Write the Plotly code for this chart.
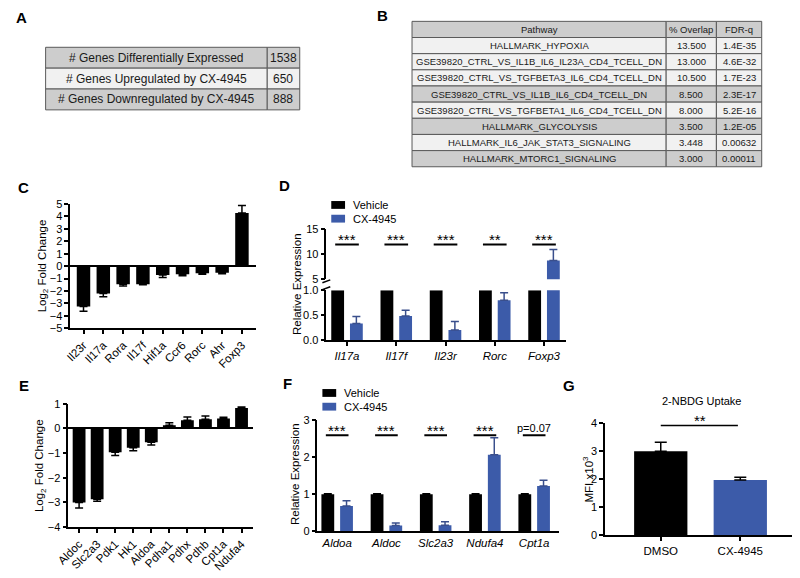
import plotly.graph_objects as go

W, H = 800, 578
OFF = 8  # default body margin of the html page
def fx(p): return (p - OFF) / W
def fy(p): return 1 - (p - OFF) / H

FONT = "Arial, Liberation Sans, sans-serif"
BLUE = "#3c5ba9"
GRAY_ROW = "#cdcdcd"
LIGHT_ROW = "#f1f1f1"
BORDER = "#5a5a5a"

# ---------------- data ----------------
tableA_labels = ["# Genes Differentially Expressed", "# Genes Upregulated by CX-4945",
                 "# Genes Downregulated by CX-4945"]
tableA_counts = ["1538", "650", "888"]
tableA_shade = [1, 0, 1]

tableB_header = ["Pathway", "% Overlap", "FDR-q"]
tableB_pathways = ["HALLMARK_HYPOXIA",
                   "GSE39820_CTRL_VS_IL1B_IL6_IL23A_CD4_TCELL_DN",
                   "GSE39820_CTRL_VS_TGFBETA3_IL6_CD4_TCELL_DN",
                   "GSE39820_CTRL_VS_IL1B_IL6_CD4_TCELL_DN",
                   "GSE39820_CTRL_VS_TGFBETA1_IL6_CD4_TCELL_DN",
                   "HALLMARK_GLYCOLYSIS",
                   "HALLMARK_IL6_JAK_STAT3_SIGNALING",
                   "HALLMARK_MTORC1_SIGNALING"]
tableB_overlap = ["13.500", "13.000", "10.500", "8.500", "8.000", "3.500", "3.448", "3.000"]
tableB_fdr = ["1.4E-35", "4.6E-32", "1.7E-23", "2.3E-17", "5.2E-16", "1.2E-05", "0.00632", "0.00011"]
tableB_shade = [0, 0, 0, 1, 0, 1, 0, 1]

c_genes = ["Il23r", "Il17a", "Rora", "Il17f", "Hif1a", "Ccr6", "Rorc", "Ahr", "Foxp3"]
c_log2fc = [-3.25, -2.2, -1.46, -1.46, -0.71, -0.66, -0.58, -0.53, 4.28]
c_err = [0.37, 0.26, 0.14, 0.03, 0.2, 0.11, 0.08, 0.08, 0.6]

d_genes = ["Il17a", "Il17f", "Il23r", "Rorc", "Foxp3"]
d_vehicle = [1, 1, 1, 1, 1]
d_cx = [0.33, 0.48, 0.2, 0.8, 8.8]
d_cx_err = [0.14, 0.12, 0.17, 0.15, 2.2]
d_sig = ["***", "***", "***", "**", "***"]

e_genes = ["Aldoc", "Slc2a3", "Pdk1", "Hk1", "Aldoa", "Pdha1", "Pdhx", "Pdhb", "Cpt1a", "Ndufa4"]
e_log2fc = [-3.0, -2.87, -0.97, -0.78, -0.56, 0.13, 0.33, 0.37, 0.4, 0.83]
e_err = [0.23, 0.08, 0.13, 0.12, 0.11, 0.1, 0.13, 0.13, 0.05, 0.04]

f_genes = ["Aldoa", "Aldoc", "Slc2a3", "Ndufa4", "Cpt1a"]
f_vehicle = [1, 1, 1, 1, 1]
f_vehicle_err = [0.01, 0.01, 0.01, 0.01, 0.01]
f_cx = [0.68, 0.15, 0.16, 2.07, 1.22]
f_cx_err = [0.14, 0.07, 0.09, 0.46, 0.16]
f_sig = ["***", "***", "***", "***", "p=0.07"]

g_groups = ["DMSO", "CX-4945"]
g_mfi = [3.0, 1.97]
g_err = [0.32, 0.1]
g_sig = "**"

legend_labels = ["Vehicle", "CX-4945"]

fig = go.Figure()
annotations = []
shapes = []

def txt(text, x, y, size, **kw):
    d = dict(text=text, x=fx(x), y=fy(y), xref="paper", yref="paper", showarrow=False,
             xanchor="center", yanchor="middle", font=dict(family=FONT, size=size, color="#1a1a1a"))
    d.update(kw)
    annotations.append(d)

def rect(x0, x1, y0, y1, fill):
    shapes.append(dict(type="rect", xref="paper", yref="paper", x0=fx(x0), x1=fx(x1),
                       y0=fy(y1), y1=fy(y0), fillcolor=fill, line=dict(color=BORDER, width=1),
                       layer="below"))

# ---------------- table A ----------------
A_cols = [34, 259, 292]
A_top, A_h = 42, 21.3
for r, (lab, cnt, sh) in enumerate(zip(tableA_labels, tableA_counts, tableA_shade)):
    y0 = A_top + r * A_h
    col = GRAY_ROW if sh else LIGHT_ROW
    for c, t in enumerate([lab, cnt]):
        rect(A_cols[c], A_cols[c + 1], y0, y0 + A_h, col)
        txt(t, (A_cols[c] + A_cols[c + 1]) / 2, y0 + A_h / 2, 12)

# ---------------- table B ----------------
B_cols = [406, 664, 715, 761]
B_top, B_h = 15.5, 16.5
rowsB = [(tableB_header, 1)] + [([p, o, f], s) for p, o, f, s in
                                 zip(tableB_pathways, tableB_overlap, tableB_fdr, tableB_shade)]
for r, (vals, sh) in enumerate(rowsB):
    y0 = B_top + r * B_h
    col = GRAY_ROW if sh else LIGHT_ROW
    for c, t in enumerate(vals):
        rect(B_cols[c], B_cols[c + 1], y0, y0 + B_h, col)
        txt(t, (B_cols[c] + B_cols[c + 1]) / 2, y0 + B_h / 2, 9.5)

# ---------------- bar helpers ----------------
def one_sided(vals, errs):
    up = [e if v >= 0 else 0 for v, e in zip(vals, errs)]
    dn = [e if v < 0 else 0 for v, e in zip(vals, errs)]
    return up, dn

def err(arr, color, minus, width=4):
    return dict(type="data", array=arr, symmetric=False, arrayminus=minus, color=color,
                thickness=1.5, width=width, visible=True)

# C
up, dn = one_sided(c_log2fc, c_err)
fig.add_trace(go.Bar(x=c_genes, y=c_log2fc, width=0.68, marker=dict(color="black", line=dict(width=0)),
                     error_y=err(up, "black", dn), xaxis="x", yaxis="y", showlegend=False))

# D (broken axis: y2 lower, y3 upper)
for ya in ["y2", "y3"]:
    fig.add_trace(go.Bar(x=d_genes, y=d_vehicle, width=0.26, offset=-0.32,
                         marker=dict(color="black", line=dict(width=0)),
                         xaxis="x2", yaxis=ya, showlegend=False))
    fig.add_trace(go.Bar(x=d_genes, y=d_cx, width=0.26, offset=0.06,
                         marker=dict(color=BLUE, line=dict(width=0)),
                         error_y=err(d_cx_err, "#3a4f8c", [0] * len(d_cx)),
                         xaxis="x2", yaxis=ya, showlegend=False))

# E
up, dn = one_sided(e_log2fc, e_err)
fig.add_trace(go.Bar(x=e_genes, y=e_log2fc, width=0.71, marker=dict(color="black", line=dict(width=0)),
                     error_y=err(up, "black", dn), xaxis="x3", yaxis="y4", showlegend=False))

# F
fig.add_trace(go.Bar(x=f_genes, y=f_vehicle, width=0.26, offset=-0.32,
                     marker=dict(color="black", line=dict(width=0)),
                     error_y=err(f_vehicle_err, "black", [0] * 5),
                     xaxis="x4", yaxis="y5", showlegend=False))
fig.add_trace(go.Bar(x=f_genes, y=f_cx, width=0.26, offset=0.06,
                     marker=dict(color=BLUE, line=dict(width=0)),
                     error_y=err(f_cx_err, "#3a4f8c", [0] * 5),
                     xaxis="x4", yaxis="y5", showlegend=False))

# G
fig.add_trace(go.Bar(x=g_groups, y=g_mfi, width=0.67,
                     marker=dict(color=["black", BLUE], line=dict(width=0)),
                     error_y=err(g_err, "black", [0, 0], width=6),
                     xaxis="x5", yaxis="y6", showlegend=False))

# ---------------- axes ----------------
TF = dict(family=FONT, size=11, color="black")
ax = dict(showline=True, linecolor="black", linewidth=1.5, ticks="outside", ticklen=4,
          tickwidth=1.5, tickcolor="black", showgrid=False, zeroline=False, tickfont=TF)
xt = dict(family=FONT, size=11.5, color="black")

def italic(lst):
    return ["<i>%s</i>" % s for s in lst]

fig.update_layout(
    xaxis=dict(ax, domain=[fx(59), fx(248)], anchor="y", range=[-0.67, 8.73],
               tickangle=-45, tickfont=xt),
    yaxis=dict(ax, domain=[fy(329), fy(202)], anchor="x", range=[-5, 5], dtick=1,
               zeroline=True, zerolinecolor="black", zerolinewidth=1.5),
    xaxis2=dict(ax, domain=[fx(319), fx(562)], anchor="y2", range=[-0.42, 4.44],
                tickvals=d_genes, ticktext=italic(d_genes), tickfont=xt),
    yaxis2=dict(ax, domain=[fy(341), fy(290)], anchor="x2", range=[0, 1],
                tickvals=[0, 0.5, 1], ticktext=["0.0", "0.5", "1.0"]),
    yaxis3=dict(ax, domain=[fy(279), fy(228)], anchor="x2", range=[5, 15],
                tickvals=[5, 10, 15]),
    xaxis3=dict(ax, domain=[fx(57), fx(245)], anchor="y4", range=[-0.6, 9.66],
                tickangle=-45, tickfont=xt),
    yaxis4=dict(ax, domain=[fy(532), fy(406)], anchor="x3", range=[-4, 1], dtick=1,
                zeroline=True, zerolinecolor="black", zerolinewidth=1.5),
    xaxis4=dict(ax, domain=[fx(310), fx(555)], anchor="y5", range=[-0.4, 4.5],
                tickvals=f_genes, ticktext=italic(f_genes), ticks="", tickfont=xt),
    yaxis5=dict(ax, domain=[fy(536), fy(423)], anchor="x4", range=[0, 3], dtick=1),
    xaxis5=dict(ax, domain=[fx(602), fx(799)], anchor="y6", range=[-0.70, 1.74], tickfont=xt),
    yaxis6=dict(ax, domain=[fy(540), fy(426)], anchor="x5", range=[0, 4], dtick=1),
    barmode="overlay",
    width=W, height=H, margin=dict(l=0, r=0, t=0, b=0),
    paper_bgcolor="white", plot_bgcolor="rgba(0,0,0,0)",
    font=dict(family=FONT, size=11, color="black"),
)

# panel letters
for lab, x, y in [("A", 10, 12), ("B", 376, 10), ("C", 12, 185), ("D", 277, 183),
                  ("E", 12, 387), ("F", 280, 385), ("G", 565, 387)]:
    txt("<b>%s</b>" % lab, x, y, 15, font=dict(family=FONT, size=15, color="black"))

# y titles
for t, x, y in [("Log<sub>2</sub> Fold Change", 31, 265), ("Relative Expression", 289, 284),
                ("Log<sub>2</sub> Fold Change", 29, 469), ("Relative Expression", 287, 478),
                ("MFI x10<sup>3</sup>", 585, 483)]:
    txt(t, x, y, 11.5, textangle=-90, font=dict(family=FONT, size=11.5, color="black"))

# G title
txt("2-NBDG Uptake", 700, 403, 11, font=dict(family=FONT, size=11, color="black"))

# legends for D and F
for (lx, ly0, ly1) in [(324, 203, 217), (315, 395, 409)]:
    for lab, col, ly in zip(legend_labels, ["black", BLUE], [ly0, ly1]):
        shapes.append(dict(type="rect", xref="paper", yref="paper", x0=fx(lx), x1=fx(lx + 14),
                           y0=fy(ly + 4), y1=fy(ly - 4), fillcolor=col, line=dict(width=0)))
        txt(lab, lx + 20, ly, 11, xanchor="left", font=dict(family=FONT, size=11, color="black"))

STAR = dict(family=FONT, size=15, color="black")
# significance D
for i, s in enumerate(d_sig):
    shapes.append(dict(type="line", xref="x2", yref="y3", x0=i - 0.24, x1=i + 0.24, y0=12, y1=12,
                       line=dict(color="black", width=2)))
    annotations.append(dict(text=s, x=i, y=12, xref="x2", yref="y3", showarrow=False,
                            yanchor="bottom", yshift=-6, font=STAR))

# significance F
for i, s in enumerate(f_sig):
    shapes.append(dict(type="line", xref="x4", yref="y5", x0=i - 0.23, x1=i + 0.23, y0=2.6, y1=2.6,
                       line=dict(color="black", width=2)))
    star = s.startswith("*")
    annotations.append(dict(text=s, x=i, y=2.6, xref="x4", yref="y5", showarrow=False,
                            yanchor="bottom", yshift=-6 if star else -1,
                            font=STAR if star else dict(family=FONT, size=11, color="black")))

# significance G
shapes.append(dict(type="line", xref="x5", yref="y6", x0=0, x1=0.97, y0=3.92, y1=3.92,
                   line=dict(color="black", width=1.5)))
annotations.append(dict(text=g_sig, x=0.49, y=3.92, xref="x5", yref="y6", showarrow=False,
                        yanchor="bottom", yshift=-5, font=STAR))

# axis break marks for D
for yb in [281, 288]:
    shapes.append(dict(type="line", xref="paper", yref="paper", x0=fx(315), x1=fx(323),
                       y0=fy(yb + 1.5), y1=fy(yb - 1.5), line=dict(color="black", width=1.5)))

fig.update_layout(annotations=annotations, shapes=shapes)
fig.write_html("out.html")
